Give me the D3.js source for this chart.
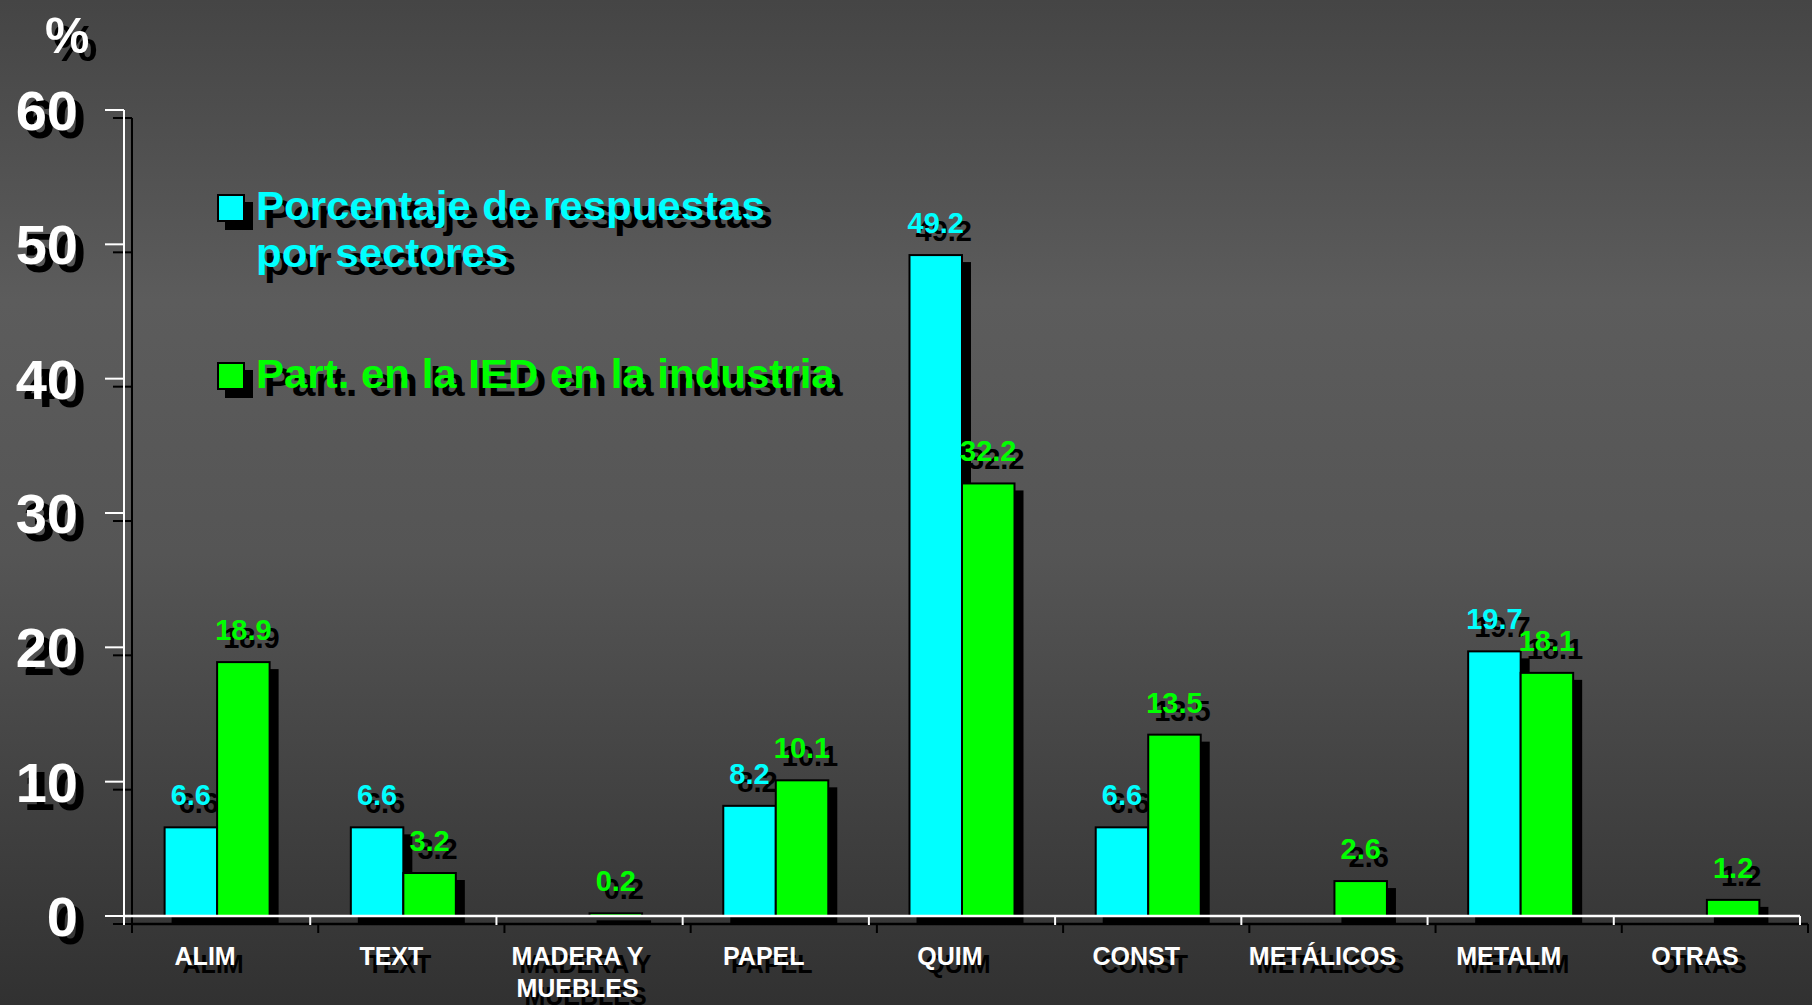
<!DOCTYPE html>
<html>
<head>
<meta charset="utf-8">
<script src="https://cdn.jsdelivr.net/npm/d3@7"></script>
<style>
  html, body { margin: 0; padding: 0; background: #333; }
  svg text { font-family: "Liberation Sans", Arial, sans-serif; font-weight: bold; }
</style>
</head>
<body>
<div id="chart"></div>
<script>
'use strict';

// chart data
const categories = ['ALIM', 'TEXT', 'MADERA Y\nMUEBLES', 'PAPEL', 'QUIM', 'CONST', 'METÁLICOS', 'METALM', 'OTRAS'];
const respuestas = [6.6, 6.6, null, 8.2, 49.2, 6.6, null, 19.7, null];
const participacion = [18.9, 3.2, 0.2, 10.1, 32.2, 13.5, 2.6, 18.1, 1.2];
const seriesNames = ['Porcentaje de respuestas\npor sectores', 'Part. en la IED en la industria'];
const seriesColors = ['#00ffff', '#00ff00'];
const yTicks = [0, 10, 20, 30, 40, 50, 60];

const W = 1812, H = 1005;
const shadow = 8;

const svg = d3.select('#chart').append('svg')
  .attr('width', W).attr('height', H);

const grad = svg.append('defs').append('linearGradient')
  .attr('id', 'bg').attr('x1', 0).attr('y1', 0).attr('x2', 0).attr('y2', 1);
grad.append('stop').attr('offset', '0%').attr('stop-color', '#454545');
grad.append('stop').attr('offset', '30%').attr('stop-color', '#5c5c5c');
grad.append('stop').attr('offset', '55%').attr('stop-color', '#555555');
grad.append('stop').attr('offset', '100%').attr('stop-color', '#313131');
svg.append('rect').attr('width', W).attr('height', H).attr('fill', 'url(#bg)');

const y = d3.scaleLinear().domain([0, 60]).range([916, 110]);
const x0 = d3.scaleBand().domain(categories).range([124, 1800]).padding(0);
const groupW = 105;
const x1 = d3.scaleBand().domain([0, 1])
  .range([(x0.bandwidth() - groupW) / 2, (x0.bandwidth() + groupW) / 2]);

const rows = [];
categories.forEach((c, i) => {
  [respuestas[i], participacion[i]].forEach((v, s) => {
    if (v != null) rows.push({cat: c, s: s, v: v});
  });
});

const shadowLayer = svg.append('g').attr('transform', `translate(${shadow},${shadow})`);
const mainLayer = svg.append('g');

function drawAxes(g, col) {
  g.append('line')
    .attr('x1', 124).attr('x2', 124).attr('y1', y(60)).attr('y2', y(0) + 9)
    .attr('stroke', col).attr('stroke-width', 2);
  g.selectAll('.ytick').data(yTicks).enter().append('line')
    .attr('x1', 105).attr('x2', 124).attr('y1', d => y(d)).attr('y2', d => y(d))
    .attr('stroke', col).attr('stroke-width', 2);
  g.append('line')
    .attr('x1', 124).attr('x2', 1800).attr('y1', y(0)).attr('y2', y(0))
    .attr('stroke', col).attr('stroke-width', 2.5);
  const bounds = categories.map(c => x0(c)).concat([x0.range()[1]]);
  g.selectAll('.xtick').data(bounds).enter().append('line')
    .attr('x1', d => d).attr('x2', d => d).attr('y1', y(0)).attr('y2', y(0) + 9)
    .attr('stroke', col).attr('stroke-width', 2);
}

function drawLabels(g, shadowed) {
  g.selectAll('.ylab').data(yTicks).enter().append('text')
    .attr('x', 78).attr('y', d => y(d)).attr('dy', '0.36em')
    .attr('text-anchor', 'end').attr('font-size', 56)
    .attr('fill', shadowed ? '#000' : '#fff')
    .text(d => d);
  g.append('text').attr('x', 45).attr('y', 53).attr('font-size', 50)
    .attr('fill', shadowed ? '#000' : '#fff').text('%');

  const cl = g.selectAll('.xlab').data(categories).enter().append('text')
    .attr('text-anchor', 'middle').attr('font-size', 25)
    .attr('fill', shadowed ? '#000' : '#fff')
    .attr('transform', d => `translate(${x0(d) + x0.bandwidth() / 2 - 12},965)`);
  cl.selectAll('tspan').data(d => d.split('\n')).enter().append('tspan')
    .attr('x', 0).attr('dy', (d, i) => i ? 32 : 0).text(d => d);

  g.selectAll('.val').data(rows).enter().append('text')
    .attr('x', d => x0(d.cat) + x1(d.s) + x1.bandwidth() / 2)
    .attr('y', d => y(d.v) - 22)
    .attr('text-anchor', 'middle').attr('font-size', 29)
    .attr('fill', d => shadowed ? '#000' : seriesColors[d.s])
    .text(d => d.v.toFixed(1));
}

function drawBars(g, shadowed) {
  g.selectAll('.bar').data(rows).enter().append('rect')
    .attr('x', d => x0(d.cat) + x1(d.s))
    .attr('y', d => y(d.v))
    .attr('width', x1.bandwidth())
    .attr('height', d => y(0) - y(d.v))
    .attr('fill', d => shadowed ? '#000' : seriesColors[d.s])
    .attr('stroke', '#000').attr('stroke-width', 2);
}

function drawLegend(g, shadowed) {
  const leg = g.selectAll('.leg').data(seriesNames).enter().append('g')
    .attr('transform', (d, i) => `translate(218,${i ? 363 : 195})`);
  leg.append('rect').attr('width', 26).attr('height', 26)
    .attr('fill', (d, i) => shadowed ? '#000' : seriesColors[i])
    .attr('stroke', '#000').attr('stroke-width', 2);
  const t = leg.append('text')
    .attr('transform', 'translate(38,25) scale(1.05,1)')
    .attr('font-size', 40)
    .attr('fill', (d, i) => shadowed ? '#000' : seriesColors[i]);
  t.selectAll('tspan').data(d => d.split('\n')).enter().append('tspan')
    .attr('x', 0).attr('dy', (d, i) => i ? 47 : 0).text(d => d);
}

drawBars(shadowLayer, true);
drawAxes(shadowLayer, '#000');
drawLabels(shadowLayer, true);
drawLegend(shadowLayer, true);

drawBars(mainLayer, false);
drawAxes(mainLayer, '#fff');
drawLabels(mainLayer, false);
drawLegend(mainLayer, false);
</script>
</body>
</html>
